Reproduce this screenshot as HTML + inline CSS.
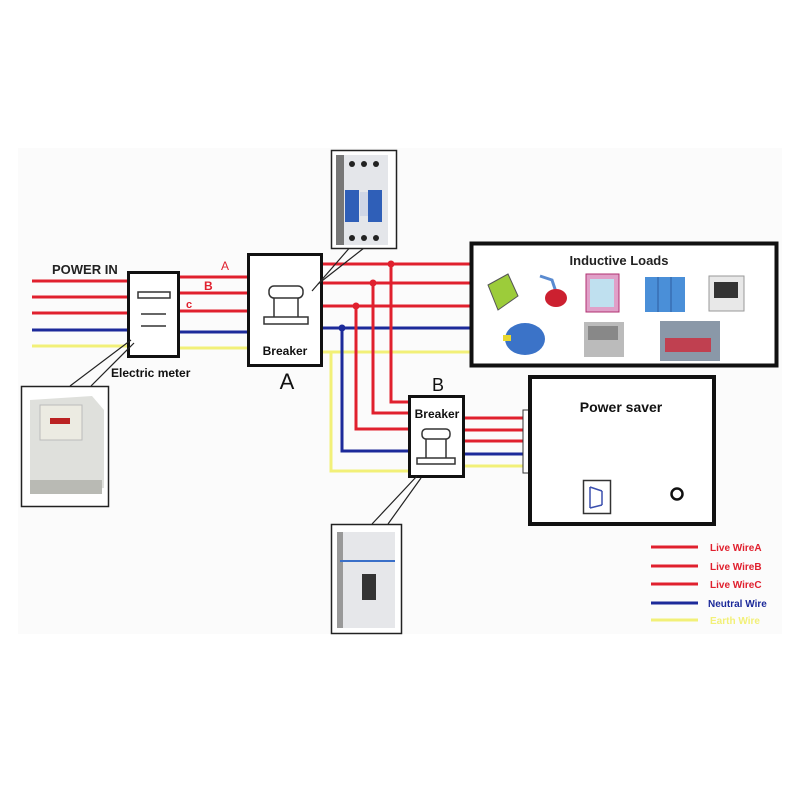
<!DOCTYPE html>
<html><head><meta charset="utf-8"><style>
html,body{margin:0;padding:0;background:#fff;}
svg{display:block;}
text{font-family:"Liberation Sans","DejaVu Sans",sans-serif;}
</style></head><body>
<svg width="800" height="800" viewBox="0 0 800 800" xmlns="http://www.w3.org/2000/svg">
<rect width="800" height="800" fill="#fff"/>
<rect x="18" y="148" width="764" height="486" fill="#fbfbfb"/>
<g fill="none" stroke-width="3">
<!-- input wires -->
<line x1="32" y1="281" x2="128" y2="281" stroke="#e0202e"/>
<line x1="32" y1="297" x2="128" y2="297" stroke="#e0202e"/>
<line x1="32" y1="313" x2="128" y2="313" stroke="#e0202e"/>
<line x1="32" y1="330" x2="128" y2="330" stroke="#1c2a9a"/>
<line x1="32" y1="346" x2="128" y2="346" stroke="#f2f078"/>
<!-- meter to breaker A -->
<line x1="179" y1="277" x2="248" y2="277" stroke="#e0202e"/>
<line x1="179" y1="293" x2="248" y2="293" stroke="#e0202e"/>
<line x1="179" y1="311" x2="248" y2="311" stroke="#e0202e"/>
<line x1="179" y1="332" x2="248" y2="332" stroke="#1c2a9a"/>
<line x1="179" y1="348" x2="248" y2="348" stroke="#f2f078"/>
<!-- breaker A to loads -->
<line x1="322" y1="264" x2="470" y2="264" stroke="#e0202e"/>
<line x1="322" y1="283" x2="470" y2="283" stroke="#e0202e"/>
<line x1="322" y1="306" x2="470" y2="306" stroke="#e0202e"/>
<line x1="322" y1="328" x2="470" y2="328" stroke="#1c2a9a"/>
<line x1="322" y1="352" x2="470" y2="352" stroke="#f2f078"/>
<!-- branches to B -->
<polyline points="391,264 391,402 409,402" stroke="#e0202e"/>
<polyline points="373,283 373,413 409,413" stroke="#e0202e"/>
<polyline points="356,306 356,429 409,429" stroke="#e0202e"/>
<polyline points="342,328 342,451 409,451" stroke="#1c2a9a"/>
<polyline points="331,352 331,471 409,471" stroke="#f2f078"/>
<!-- B to saver -->
<line x1="464" y1="418" x2="523" y2="418" stroke="#e0202e"/>
<line x1="464" y1="430" x2="523" y2="430" stroke="#e0202e"/>
<line x1="464" y1="441" x2="523" y2="441" stroke="#e0202e"/>
<line x1="464" y1="454" x2="523" y2="454" stroke="#1c2a9a"/>
<line x1="464" y1="466" x2="523" y2="466" stroke="#f2f078"/>
<!-- legend -->
<line x1="651" y1="547" x2="698" y2="547" stroke="#e0202e"/>
<line x1="651" y1="566" x2="698" y2="566" stroke="#e0202e"/>
<line x1="651" y1="584" x2="698" y2="584" stroke="#e0202e"/>
<line x1="651" y1="603" x2="698" y2="603" stroke="#1c2a9a"/>
<line x1="651" y1="620" x2="698" y2="620" stroke="#f2f078"/>
</g>
<circle cx="391" cy="264" r="3.5" fill="#e0202e"/>
<circle cx="373" cy="283" r="3.5" fill="#e0202e"/>
<circle cx="356" cy="306" r="3.5" fill="#e0202e"/>
<circle cx="342" cy="328" r="3.5" fill="#1c2a9a"/>

<text x="52" y="274" font-size="13" font-weight="bold" fill="#222">POWER IN</text>
<text x="221" y="270" font-size="12" fill="#e0202e">A</text>
<text x="204" y="290" font-size="12" fill="#e0202e" font-weight="bold">B</text>
<text x="186" y="308" font-size="11" fill="#e0202e" font-weight="bold">c</text>

<!-- meter -->
<rect x="128.5" y="272.5" width="50" height="84" fill="#fff" stroke="#111" stroke-width="3"/>
<rect x="138" y="292" width="32" height="6" fill="none" stroke="#333" stroke-width="1.5"/>
<line x1="141" y1="314" x2="166" y2="314" stroke="#333" stroke-width="1.5"/>
<line x1="141" y1="326" x2="166" y2="326" stroke="#333" stroke-width="1.5"/>
<text x="111" y="377" font-size="12" font-weight="bold" fill="#111">Electric meter</text>

<!-- breaker A -->
<rect x="248.5" y="254.5" width="73" height="111" fill="#fff" stroke="#111" stroke-width="3"/>
<g fill="none" stroke="#333" stroke-width="1.5">
<rect x="269" y="286" width="34" height="12" rx="5"/>
<line x1="274" y1="298" x2="274" y2="317"/><line x1="298" y1="298" x2="298" y2="317"/>
<rect x="264" y="317" width="44" height="7"/>
</g>
<text x="285" y="355" font-size="12" font-weight="bold" text-anchor="middle" fill="#111">Breaker</text>
<text x="287" y="389" font-size="22" text-anchor="middle" fill="#111">A</text>
<line x1="312" y1="291" x2="352" y2="245" stroke="#222" stroke-width="1.2"/>
<line x1="318" y1="284" x2="364" y2="248" stroke="#222" stroke-width="1.2"/>

<!-- top breaker photo -->
<rect x="331.5" y="150.5" width="65" height="98" fill="#fff" stroke="#222" stroke-width="1.5"/>
<rect x="336" y="155" width="52" height="90" fill="#e4e6ea"/>
<rect x="336" y="155" width="8" height="90" fill="#777"/>
<rect x="345" y="190" width="14" height="32" fill="#2f5fb8"/>
<rect x="368" y="190" width="14" height="32" fill="#2f5fb8"/>
<rect x="360" y="192" width="8" height="24" fill="#cfd6e6"/>
<g fill="#222"><circle cx="352" cy="164" r="3"/><circle cx="364" cy="164" r="3"/><circle cx="376" cy="164" r="3"/><circle cx="352" cy="238" r="3"/><circle cx="364" cy="238" r="3"/><circle cx="376" cy="238" r="3"/></g>

<!-- meter photo -->
<line x1="70" y1="386" x2="131" y2="340" stroke="#222" stroke-width="1.2"/>
<line x1="91" y1="386" x2="134" y2="343" stroke="#222" stroke-width="1.2"/>
<rect x="21.5" y="386.5" width="87" height="120" fill="#fff" stroke="#222" stroke-width="1.5"/>
<path d="M30 400 L92 396 L104 410 L104 488 L30 494 Z" fill="#dfe0dc"/>
<rect x="40" y="405" width="42" height="35" fill="#ecebe2" stroke="#bbb"/>
<rect x="50" y="418" width="20" height="6" fill="#b22"/>
<rect x="30" y="480" width="72" height="14" fill="#b9bab4"/>

<!-- loads box -->
<rect x="471.5" y="243.5" width="305" height="122" fill="#fff" stroke="#111" stroke-width="4"/>
<text x="619" y="265" font-size="13" font-weight="bold" text-anchor="middle" fill="#222">Inductive Loads</text>
<path d="M488 285 L508 274 L518 296 L498 310 Z" fill="#9ccc3a" stroke="#555"/>
<path d="M540 276 L552 280 L556 292" stroke="#5a8bd0" stroke-width="3" fill="none"/>
<ellipse cx="556" cy="298" rx="11" ry="9" fill="#cc2030"/>
<rect x="586" y="274" width="33" height="38" fill="#e0a0c8" stroke="#b03070"/>
<rect x="590" y="279" width="24" height="28" fill="#bfe0ef"/>
<rect x="645" y="277" width="40" height="35" fill="#4a8fd8"/>
<line x1="658" y1="277" x2="658" y2="312" stroke="#2d5ea0"/><line x1="671" y1="277" x2="671" y2="312" stroke="#2d5ea0"/>
<rect x="709" y="276" width="35" height="35" fill="#e8e8e8" stroke="#999"/>
<rect x="714" y="282" width="24" height="16" fill="#333"/>
<ellipse cx="525" cy="339" rx="20" ry="16" fill="#3b73c8"/>
<rect x="503" y="335" width="8" height="6" fill="#e8d830"/>
<rect x="584" y="322" width="40" height="35" fill="#bbb"/>
<rect x="588" y="326" width="30" height="14" fill="#888"/>
<rect x="660" y="321" width="60" height="40" fill="#8a98a8"/>
<rect x="665" y="338" width="46" height="14" fill="#c04050"/>

<!-- breaker B -->
<text x="438" y="391" font-size="18" text-anchor="middle" fill="#111">B</text>
<rect x="409.5" y="396.5" width="54" height="80" fill="#fff" stroke="#111" stroke-width="3"/>
<text x="437" y="418" font-size="12" font-weight="bold" text-anchor="middle" fill="#111">Breaker</text>
<g fill="none" stroke="#333" stroke-width="1.5">
<rect x="422" y="429" width="28" height="10" rx="4"/>
<line x1="426" y1="439" x2="426" y2="458"/><line x1="446" y1="439" x2="446" y2="458"/>
<rect x="417" y="458" width="38" height="6"/>
</g>
<line x1="372" y1="524" x2="417" y2="476" stroke="#222" stroke-width="1.2"/>
<line x1="388" y1="524" x2="421" y2="478" stroke="#222" stroke-width="1.2"/>
<rect x="331.5" y="524.5" width="70" height="109" fill="#fff" stroke="#222" stroke-width="1.5"/>
<rect x="337" y="532" width="58" height="96" fill="#e6e7ea"/>
<rect x="337" y="532" width="6" height="96" fill="#999"/>
<line x1="340" y1="561" x2="395" y2="561" stroke="#3a6fc8" stroke-width="2"/>
<rect x="362" y="574" width="14" height="26" fill="#333"/>

<!-- power saver -->
<rect x="523" y="410" width="6" height="63" fill="#fff" stroke="#333" stroke-width="1"/>
<rect x="530" y="377" width="184" height="147" fill="#fff" stroke="#111" stroke-width="4"/>
<text x="621" y="412" font-size="14" font-weight="bold" text-anchor="middle" fill="#111">Power saver</text>
<rect x="583.5" y="480.5" width="27" height="33" fill="#fff" stroke="#333" stroke-width="1.5"/>
<g stroke="#3a4fae" stroke-width="1.5" fill="none"><line x1="590" y1="487" x2="590" y2="508"/><line x1="590" y1="487" x2="602" y2="491"/><line x1="590" y1="508" x2="602" y2="505"/><line x1="602" y1="491" x2="602" y2="505"/></g>
<circle cx="677" cy="494" r="5.5" fill="none" stroke="#111" stroke-width="2.5"/>

<!-- legend text -->
<g font-size="10" font-weight="bold">
<text x="710" y="551" fill="#e0202e">Live WireA</text>
<text x="710" y="570" fill="#e0202e">Live WireB</text>
<text x="710" y="588" fill="#e0202e">Live WireC</text>
<text x="708" y="607" fill="#1c2a9a">Neutral Wire</text>
<text x="710" y="624" fill="#f2f078">Earth Wire</text>
</g>
</svg>
</body></html>
